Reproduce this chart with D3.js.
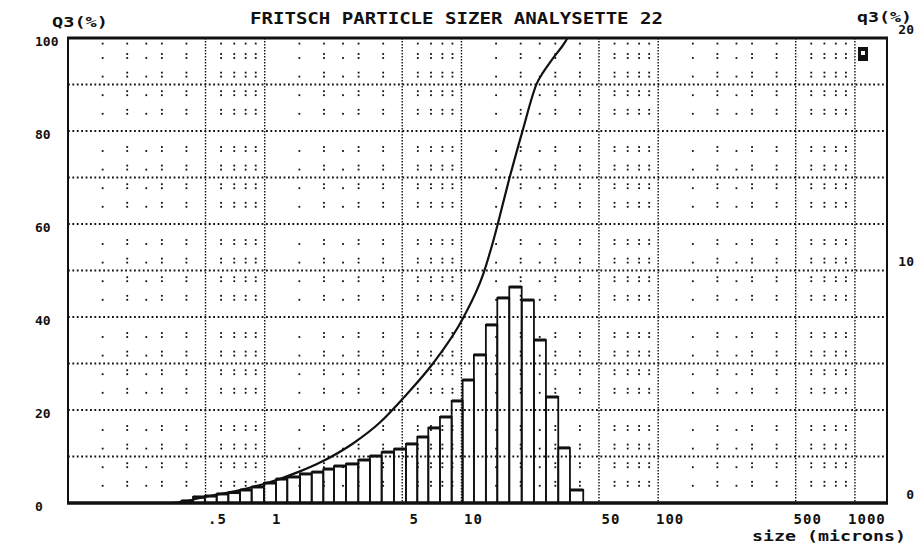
<!DOCTYPE html>
<html><head><meta charset="utf-8">
<script src="https://cdn.jsdelivr.net/npm/d3@7"></script>
<style>
html,body{margin:0;padding:0;background:#fff;}
svg{display:block;}
text{font-family:"DejaVu Sans Mono","Liberation Mono",monospace;font-weight:bold;fill:#111;}
</style></head><body>
<svg id="chart" width="921" height="546"></svg>
<script>
// ---------- data ----------
const title = "FRITSCH PARTICLE SIZER ANALYSETTE 22";
const leftAxisTitle = "Q3(%)";
const rightAxisTitle = "q3(%)";
const xAxisTitle = "size (microns)";
const xTickValues = [0.5, 1, 5, 10, 50, 100, 500, 1000];
const xTickLabels = [".5", "1", "5", "10", "50", "100", "500", "1000"];
const leftTickValues = [0, 20, 40, 60, 80, 100];
const rightTickValues = [0, 10, 20];
const hGridValues = [10, 20, 30, 40, 50, 60, 70, 80, 90];
const minorMultipliers = [1.5, 2, 2.5, 3, 4, 6, 7, 8, 9];
const minorDouble = [false, true, false, true, true, true, true, true, true];
const decades = [0.1, 1, 10, 100, 1000];

// histogram channel edges (microns) and q3 values (%)
const binEdges = [0.377, 0.432, 0.496, 0.570, 0.653, 0.749, 0.858, 0.991, 1.141, 1.302,
  1.511, 1.733, 1.985, 2.249, 2.588, 2.989, 3.427, 3.930, 4.539, 5.222,
  5.963, 6.784, 7.777, 8.918, 10.14, 11.57, 13.31, 15.21, 17.50, 20.24,
  23.36, 26.88, 31.05, 35.60, 41.6];
const q3Values = [0.09, 0.26, 0.30, 0.39, 0.45, 0.56, 0.69, 0.86, 1.03, 1.12,
  1.25, 1.33, 1.46, 1.59, 1.68, 1.85, 2.02, 2.19, 2.32, 2.54,
  2.84, 3.23, 3.70, 4.39, 5.29, 6.37, 7.66, 8.82, 9.29, 8.73,
  7.01, 4.56, 2.37, 0.56];

// cumulative curve Q3 (size in microns, %)
const curveSize = [0.1, 0.33, 0.40, 0.469, 0.572, 0.75, 1.03, 1.51, 1.91, 2.81, 3.85, 5.25,
  7.16, 10.2, 12.9, 14.5, 17.6, 20.5, 24.2, 26.0, 28.8, 33.6, 34.6];
const curveQ3 = [0, 0, 0.4, 1.1, 1.8, 2.8, 4.3, 6.8, 8.7, 12.8, 17.3, 23.3,
  30.0, 39.8, 49.2, 56.3, 70.1, 80.2, 90.3, 92.6, 95.3, 99.1, 100];

// ---------- chart ----------
const W = 921, H = 546;
const m = {left: 68, right: 887, top: 38, bottom: 503};
const svg = d3.select("#chart");
svg.append("rect").attr("width", W).attr("height", H).attr("fill", "#fff");

const x = d3.scaleLog().domain([0.1, 1456]).range([m.left, m.right]);
const yL = d3.scaleLinear().domain([0, 100]).range([m.bottom, m.top]);
const yR = d3.scaleLinear().domain([0, 20]).range([m.bottom, m.top]);
const ink = "#111";

// grid
const grid = svg.append("g");
grid.selectAll("line.h").data(hGridValues).join("line").attr("class", "h")
  .attr("x1", m.left).attr("x2", m.right)
  .attr("y1", d => yL(d)).attr("y2", d => yL(d))
  .attr("stroke", ink).attr("stroke-width", 1.8).attr("stroke-dasharray", "1.8 2.6");
grid.selectAll("line.v").data(xTickValues).join("line").attr("class", "v")
  .attr("x1", d => x(d)).attr("x2", d => x(d))
  .attr("y1", m.top).attr("y2", m.bottom)
  .attr("stroke", ink).attr("stroke-width", 1.4).attr("stroke-dasharray", "1.4 1.6");

// minor dot matrix
const dotRows = d3.range(3.7, 97, 4).filter(p => Math.abs(p / 20 - Math.round(p / 20)) * 20 > 1);
const cols = [];
decades.forEach(dec => minorMultipliers.forEach((mm, i) => {
  const v = dec * mm;
  if (v < x.domain()[1]) cols.push({v, dbl: minorDouble[i]});
}));
const dots = [];
cols.forEach(c => {
  dots.push({x: x(c.v), y: yL(98.8)});
  dotRows.forEach(r => {
    dots.push({x: x(c.v), y: yL(r)});
    if (c.dbl) dots.push({x: x(c.v), y: yL(r) - 4});
  });
});
grid.selectAll("rect.dot").data(dots).join("rect").attr("class", "dot")
  .attr("x", d => d.x - 0.9).attr("y", d => d.y - 0.9)
  .attr("width", 1.8).attr("height", 1.8).attr("fill", ink);

// histogram bars
const bars = q3Values.map((v, i) => ({x0: binEdges[i], x1: binEdges[i + 1], v}));
const barG = svg.append("g");
barG.selectAll("path.bar").data(bars).join("path").attr("class", "bar")
  .attr("d", d => `M${x(d.x0)},${yR(0)}V${yR(d.v)}H${x(d.x1)}V${yR(0)}`)
  .attr("fill", "none").attr("stroke", ink).attr("stroke-width", 1.8);
barG.selectAll("line.top").data(bars).join("line").attr("class", "top")
  .attr("x1", d => x(d.x0)).attr("x2", d => x(d.x1))
  .attr("y1", d => yR(d.v)).attr("y2", d => yR(d.v))
  .attr("stroke", ink).attr("stroke-width", 3);

// cumulative curve
const pts = curveSize.map((s, i) => [x(s), yL(curveQ3[i])]);
svg.append("path").datum(pts)
  .attr("d", d3.line().curve(d3.curveMonotoneX))
  .attr("fill", "none").attr("stroke", ink).attr("stroke-width", 2.2);

// frame
const fr = svg.append("g").attr("stroke", ink);
fr.append("line").attr("x1", m.left - 1).attr("x2", m.right + 1).attr("y1", m.top).attr("y2", m.top).attr("stroke-width", 3);
fr.append("line").attr("x1", m.left - 1).attr("x2", m.right + 1).attr("y1", m.bottom).attr("y2", m.bottom).attr("stroke-width", 3.5);
fr.append("line").attr("x1", m.left).attr("x2", m.left).attr("y1", m.top).attr("y2", m.bottom).attr("stroke-width", 2);
fr.append("line").attr("x1", m.right).attr("x2", m.right).attr("y1", m.top).attr("y2", m.bottom).attr("stroke-width", 2);

// marker at top right
svg.append("rect").attr("x", 858).attr("y", 47).attr("width", 10).attr("height", 14).attr("fill", ink);
svg.append("rect").attr("x", 861).attr("y", 51).attr("width", 4).attr("height", 4).attr("fill", "#fff");

// texts
svg.append("text").attr("x", 250).attr("y", 24).attr("font-size", 16)
  .attr("textLength", 413).attr("lengthAdjust", "spacingAndGlyphs").text(title);
svg.append("text").attr("x", 52).attr("y", 27).attr("font-size", 14)
  .attr("textLength", 56).attr("lengthAdjust", "spacingAndGlyphs").text(leftAxisTitle);
svg.append("text").attr("x", 857).attr("y", 22).attr("font-size", 14)
  .attr("textLength", 55).attr("lengthAdjust", "spacingAndGlyphs").text(rightAxisTitle);

svg.selectAll("text.yl").data(leftTickValues).join("text").attr("class", "yl")
  .attr("x", 35).attr("y", d => yL(d) + 4).attr("dominant-baseline", "middle")
  .attr("font-size", 13).text(d => d);
svg.selectAll("text.yr").data(rightTickValues).join("text").attr("class", "yr")
  .attr("x", 914).attr("y", d => yR(d) - 8).attr("dominant-baseline", "middle")
  .attr("text-anchor", "end").attr("font-size", 13).text(d => d);
svg.selectAll("text.xt").data(xTickValues).join("text").attr("class", "xt")
  .attr("x", d => x(d) + 12).attr("y", 524).attr("text-anchor", "middle")
  .attr("font-size", 14).attr("letter-spacing", 1)
  .text((d, i) => xTickLabels[i]);
svg.append("text").attr("x", 752).attr("y", 541).attr("font-size", 14)
  .attr("textLength", 154).attr("lengthAdjust", "spacingAndGlyphs").text(xAxisTitle);
</script>
</body></html>
